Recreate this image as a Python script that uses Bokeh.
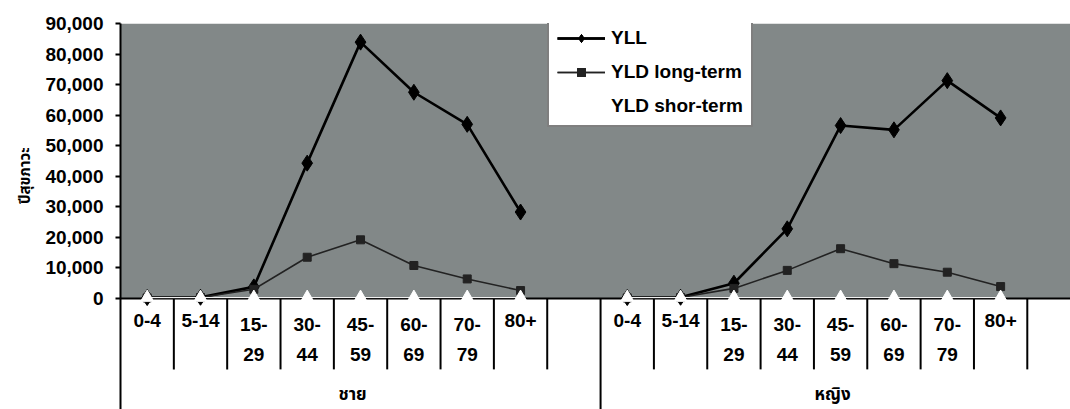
import math
from bokeh.plotting import figure
from bokeh.models import Range1d, FixedTicker, NumeralTickFormatter, BoxAnnotation, Title
from bokeh.core.properties import value
from bokeh.embed import file_html
from bokeh.resources import INLINE

# ---------------- data ----------------
age_groups = ["0-4", "5-14", "15-29", "30-44", "45-59", "60-69", "70-79", "80+"]
age_tick_labels = ["0-4", "5-14", "15-\n29", "30-\n44", "45-\n59", "60-\n69", "70-\n79", "80+"]
sex_labels = ["ชาย", "หญิง"]

male_yll = [300, 400, 3800, 44300, 83900, 67500, 57000, 28300]
male_yld_long = [200, 300, 3000, 13500, 19200, 10800, 6400, 2600]
male_yld_short = [300, 300, 300, 300, 300, 300, 300, 300]

female_yll = [300, 400, 5000, 22800, 56600, 55200, 71300, 59100]
female_yld_long = [200, 300, 3300, 9200, 16300, 11400, 8600, 3900]
female_yld_short = [300, 300, 300, 300, 300, 300, 300, 300]

y_ticks = [0, 10000, 20000, 30000, 40000, 50000, 60000, 70000, 80000, 90000]
y_title = "ปีสุขภาวะ"

# ---------------- layout helpers ----------------
n_age = len(age_groups)
slots = n_age + 1            # one empty slot after each group
FONT = "Liberation Sans"
THAI_FONT = "Noto Sans Thai, Tahoma, DejaVu Sans, sans-serif"

groups = [
    (male_yll, male_yld_long, male_yld_short),
    (female_yll, female_yld_long, female_yld_short),
]

x_max = 17.81
y_min = -36330
y_max = 90000

p = figure(width=1070, height=409,
           x_range=Range1d(0, x_max), y_range=Range1d(y_min, y_max),
           output_backend="svg", toolbar_location=None,
           x_axis_location=None,
           min_border_left=120, min_border_right=0,
           min_border_top=23, min_border_bottom=0)
p.outline_line_color = None
p.xgrid.visible = False
p.ygrid.visible = False
p.background_fill_color = "white"

# textured gray plot area (0 .. 90000)
p.add_layout(BoxAnnotation(bottom=0, top=y_max, fill_color="#828888",
                           fill_alpha=1.0, line_color=None, level="underlay"))

# baseline (x axis line)
p.segment(x0=[0], y0=[0], x1=[2 * slots], y1=[0], line_color="black", line_width=2)

# category separators below the baseline
short_x = []
for g in range(2):
    for i in range(1, n_age + 1):
        short_x.append(g * slots + i)
sep_short = -23200
p.segment(x0=short_x, y0=[0] * len(short_x), x1=short_x, y1=[sep_short] * len(short_x),
          line_color="black", line_width=2)
long_x = [slots * (g + 1) for g in range(2)]
p.segment(x0=long_x, y0=[0] * len(long_x), x1=long_x, y1=[y_min] * len(long_x),
          line_color="black", line_width=2)

# age labels
lab_x, lab_t = [], []
for g in range(2):
    for i, t in enumerate(age_tick_labels):
        lab_x.append(g * slots + i + 0.5)
        lab_t.append(t)
p.text(x=lab_x, y=[-5000] * len(lab_x), text=lab_t,
       text_font=value(FONT), text_font_style="bold", text_font_size="19px",
       text_align="center", text_baseline="top", text_line_height=1.45,
       text_color="black")

# group labels
p.text(x=[g * slots + slots / 2 - 0.15 for g in range(2)], y=[-31700, -31700], text=sex_labels,
       text_font=value(THAI_FONT), text_font_style="bold", text_font_size="17px",
       text_align="center", text_baseline="middle", text_color="black")

# series (drawn in Excel order: YLL, YLD long-term, YLD short-term on top)
for g, (yll, yld_l, yld_s) in enumerate(groups):
    xs = [g * slots + i + 0.5 for i in range(n_age)]
    p.line(xs, yll, line_color="black", line_width=2.6, legend_label="YLL")
    p.scatter(xs, yll, marker="diamond", size=16, fill_color="black", line_color="black",
              legend_label="YLL")
    p.line(xs, yld_l, line_color="#222222", line_width=1.6, legend_label="YLD long-term")
    p.scatter(xs, yld_l, marker="square", size=8, fill_color="#222222", line_color="#222222",
              legend_label="YLD long-term")
    p.line(xs, yld_s, line_color="white", line_width=1, legend_label="YLD shor-term")
    p.scatter(xs, yld_s, marker="triangle", size=13, fill_color="white", line_color="white",
              legend_label="YLD shor-term")

# y axis
ax = p.yaxis[0]
ax.ticker = FixedTicker(ticks=y_ticks)
ax.formatter = NumeralTickFormatter(format="0,0")
ax.major_label_text_font = FONT
ax.major_label_text_font_style = "bold"
ax.major_label_text_font_size = "19px"
ax.major_label_text_color = "black"
ax.major_tick_in = 0
ax.major_tick_out = 5
ax.minor_tick_line_color = None
ax.axis_line_width = 2
ax.major_tick_line_width = 2
ax.major_label_standoff = 12

# y title (rotated, left side)
p.add_layout(Title(text=y_title, align="right", offset=124,
                   text_font=THAI_FONT, text_font_style="bold", text_font_size="15px",
                   text_color="black", standoff=12), "left")

# legend
lg = p.legend[0]
lg.location = (427, 282)
lg.label_text_font = FONT
lg.label_text_font_style = "bold"
lg.label_text_font_size = "19px"
lg.label_text_color = "black"
lg.border_line_color = "black"
lg.border_line_width = 2
lg.background_fill_color = "white"
lg.background_fill_alpha = 1.0
lg.glyph_width = 48
lg.glyph_height = 20
lg.label_height = 20
lg.label_standoff = 6
lg.spacing = 12
lg.padding = 8
lg.margin = 0

open("out.html", "w").write(file_html(p, INLINE))
